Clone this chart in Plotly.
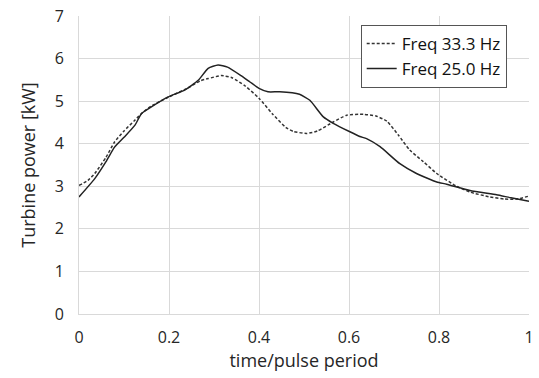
import plotly.graph_objects as go

x_33 = [0.0, 0.02, 0.035, 0.06, 0.079, 0.1, 0.124, 0.139, 0.16, 0.2, 0.24, 0.27, 0.287, 0.316, 0.34, 0.37, 0.40, 0.43, 0.46, 0.476, 0.506, 0.53, 0.565, 0.595, 0.632, 0.66, 0.684, 0.71, 0.735, 0.765, 0.795, 0.839, 0.87, 0.913, 0.945, 0.973, 1.0]
y_33 = [3.02, 3.14, 3.30, 3.68, 4.04, 4.30, 4.55, 4.71, 4.88, 5.10, 5.30, 5.48, 5.53, 5.60, 5.55, 5.35, 5.07, 4.70, 4.38, 4.29, 4.24, 4.30, 4.51, 4.67, 4.69, 4.65, 4.53, 4.20, 3.85, 3.58, 3.30, 3.00, 2.86, 2.75, 2.70, 2.70, 2.77]

x_25 = [0.0, 0.035, 0.06, 0.079, 0.1, 0.124, 0.139, 0.16, 0.198, 0.235, 0.265, 0.287, 0.309, 0.33, 0.36, 0.38, 0.40, 0.42, 0.446, 0.49, 0.513, 0.543, 0.565, 0.602, 0.624, 0.639, 0.669, 0.713, 0.75, 0.795, 0.817, 0.869, 0.928, 0.96, 1.0]
y_25 = [2.75, 3.18, 3.58, 3.92, 4.15, 4.43, 4.71, 4.86, 5.10, 5.26, 5.49, 5.77, 5.85, 5.80, 5.60, 5.45, 5.30, 5.22, 5.22, 5.16, 5.02, 4.63, 4.48, 4.28, 4.17, 4.12, 3.93, 3.53, 3.30, 3.10, 3.05, 2.90, 2.80, 2.73, 2.65]

x_ticks = [0, 0.2, 0.4, 0.6, 0.8, 1]
x_tick_labels = ["0", "0.2", "0.4", "0.6", "0.8", "1"]
y_ticks = [0, 1, 2, 3, 4, 5, 6, 7]

FONT = "Open Sans"
fig = go.Figure()
fig.add_trace(go.Scatter(x=x_33, y=y_33, mode="lines", name="Freq 33.3 Hz",
                         line=dict(color="#333333", width=1.5, dash="3px,2px", shape="spline", smoothing=0.5)))
fig.add_trace(go.Scatter(x=x_25, y=y_25, mode="lines", name="Freq 25.0 Hz",
                         line=dict(color="#222222", width=1.5, shape="spline", smoothing=0.5)))

fig.update_layout(
    width=539, height=378,
    margin=dict(l=79, r=10, t=16, b=64),
    paper_bgcolor="white", plot_bgcolor="white",
    font=dict(family=FONT, color="#262626", size=16),
    showlegend=True,
    legend=dict(x=0.626, y=0.97, xanchor="left", yanchor="top",
                bgcolor="white", bordercolor="#555555", borderwidth=1,
                font=dict(family=FONT, size=17, color="#111111"),
                tracegroupgap=0, itemwidth=30),
    xaxis=dict(range=[0, 1], tickvals=x_ticks, ticktext=x_tick_labels,
               showgrid=True, gridcolor="#d9d9d9", gridwidth=1,
               zeroline=False, showline=True, linecolor="#d9d9d9", linewidth=1,
               ticks="outside", ticklen=9, tickcolor="rgba(0,0,0,0)", automargin=False,
               title=dict(text="time/pulse period", font=dict(family=FONT, size=18), standoff=0),
               tickfont=dict(family=FONT, size=16)),
    yaxis=dict(range=[0, 7], tickvals=y_ticks,
               showgrid=True, gridcolor="#d9d9d9", gridwidth=1,
               zeroline=False, showline=True, linecolor="#d9d9d9", linewidth=1,
               ticks="outside", ticklen=11, tickcolor="rgba(0,0,0,0)", automargin=False,
               title=dict(text="Turbine power [kW]", font=dict(family=FONT, size=18), standoff=14),
               tickfont=dict(family=FONT, size=16)),
)

fig.write_html("out.html", config={"displayModeBar": False},
               post_script="document.body.style.margin='0';document.documentElement.style.overflow='hidden';")
